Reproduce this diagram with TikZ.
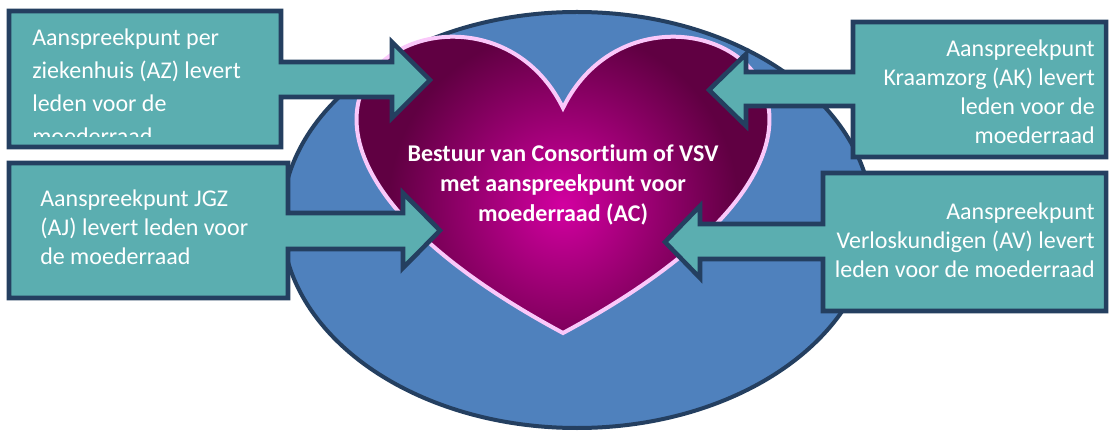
\documentclass[tikz,border=0pt]{standalone}
\usepackage{fontspec}
\setmainfont{Carlito}[Ligatures=NoCommon]
\definecolor{tealc}{RGB}{91,174,176}
\definecolor{navy}{RGB}{36,63,96}
\definecolor{ellblue}{RGB}{79,129,189}
\definecolor{pinkline}{RGB}{250,200,250}
\definecolor{heartmid}{RGB}{210,0,160}
\definecolor{heartdark}{RGB}{96,0,66}
\begin{document}
\begin{tikzpicture}[x=0.75pt,y=-0.75pt,
  callout/.style={fill=tealc,draw=navy,line width=3.4pt,line join=miter},
  lbl/.style={text=white,inner sep=0pt,font=\fontsize{18}{22}\selectfont},
  ctr/.style={text=white,inner sep=0pt,font=\fontsize{18}{22}\selectfont\bfseries}]
\fill[white] (0,0) rectangle (1109,434);
\useasboundingbox (0,0) rectangle (1109,434);
% ellipse
\draw[fill=ellblue,draw=navy,line width=3pt] (577,220) ellipse [x radius=295,y radius=208];
% heart
\begin{scope}
\clip (563,108) .. controls (648.4,-67) and (981.5,108) .. (563,333)
      .. controls (144.5,108) and (477.6,-67) .. (563,108) -- cycle;
\fill[heartdark] (340,20) rectangle (790,340);
\shade[inner color=heartmid,outer color=heartdark] (563,205) circle [radius=175];
\end{scope}
\draw[pinkline,line width=3pt] (563,108) .. controls (648.4,-67) and (981.5,108) .. (563,333)
      .. controls (144.5,108) and (477.6,-67) .. (563,108) -- cycle;
% callouts
\draw[callout] (9,11) -- (281,11) -- (281,62) -- (392,62) -- (392,42) -- (430,80)
  -- (392,118) -- (392,97) -- (281,97) -- (281,147) -- (9,147) -- cycle;
\draw[callout] (9,163) -- (288,163) -- (288,213) -- (403,213) -- (403,193) -- (440,230.5)
  -- (403,268) -- (403,249) -- (288,249) -- (288,298) -- (9,298) -- cycle;
\draw[callout] (1106,22) -- (853,22) -- (853,72) -- (746,72) -- (746,54) -- (709,90)
  -- (746,126) -- (746,106) -- (853,106) -- (853,157) -- (1106,157) -- cycle;
\draw[callout] (1106,173) -- (823,173) -- (823,224) -- (700,224) -- (700,206) -- (665,242)
  -- (700,278) -- (700,259) -- (823,259) -- (823,311) -- (1106,311) -- cycle;
% texts AZ
\node[lbl,anchor=base west] (az1) at (32,46) {Aanspreekpunt per};
\node[lbl,anchor=base west] (az2) at (32,79) {ziekenhuis (AZ) levert};
\node[lbl,anchor=base west] (az3) at (32,112) {leden voor de};
\begin{scope}
\clip (0,0) rectangle (300,137);
\node[lbl,anchor=base west] (az4) at (32,145) {moederraad};
\end{scope}
% texts AJ
\node[lbl,anchor=base west] (aj1) at (40,207) {Aanspreekpunt JGZ};
\node[lbl,anchor=base west] (aj2) at (40,236) {(AJ) levert leden voor};
\node[lbl,anchor=base west] (aj3) at (40,265) {de moederraad};
% texts AK
\node[lbl,anchor=base east] (ak1) at (1095,57) {Aanspreekpunt};
\node[lbl,anchor=base east] (ak2) at (1095,86) {Kraamzorg (AK) levert};
\node[lbl,anchor=base east] (ak3) at (1095,115) {leden voor de};
\node[lbl,anchor=base east] (ak4) at (1095,144) {moederraad};
% texts AV
\node[lbl,anchor=base east] (av1) at (1095,220) {Aanspreekpunt};
\node[lbl,anchor=base east] (av2) at (1095,249) {Verloskundigen (AV) levert};
\node[lbl,anchor=base east] (av3) at (1095,278) {leden voor de moederraad};
% center text
\node[ctr,anchor=base] (ac1) at (563,162) {Bestuur van Consortium of VSV};
\node[ctr,anchor=base] (ac2) at (563,192) {met aanspreekpunt voor};
\node[ctr,anchor=base] (ac3) at (563,222) {moederraad (AC)};
\end{tikzpicture}
\end{document}
